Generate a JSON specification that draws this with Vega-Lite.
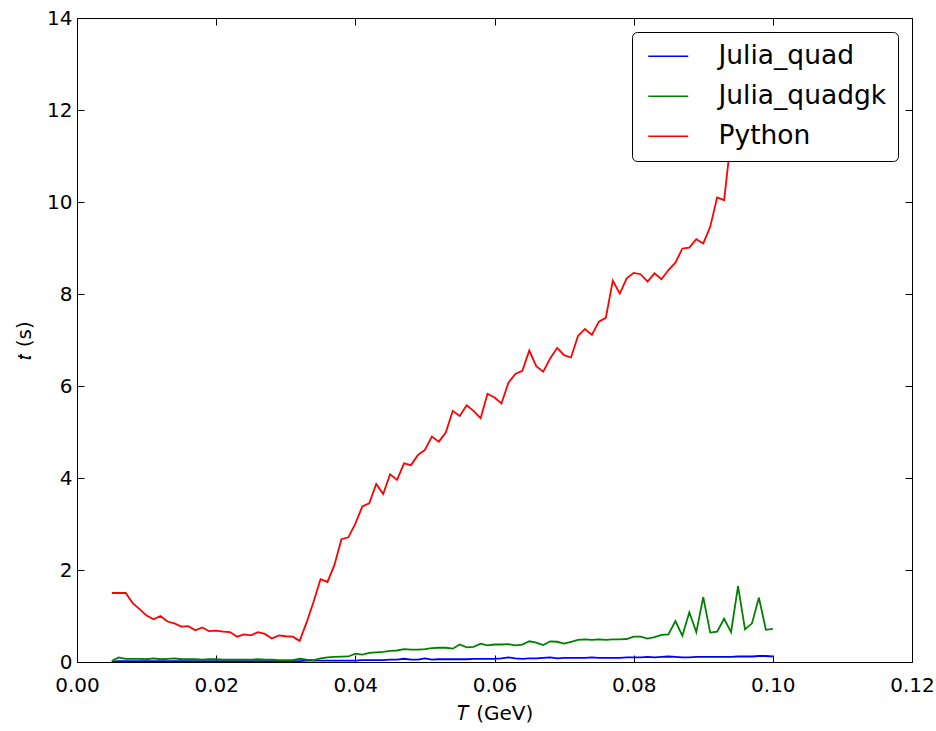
{
  "$schema": "https://vega.github.io/schema/vega-lite/v6.json",
  "width": 835,
  "height": 644,
  "autosize": "none",
  "padding": {"left": 77, "top": 18, "right": 24, "bottom": 69},
  "background": "white",
  "config": {
    "font": "DejaVu Sans",
    "view": {"stroke": "black", "strokeWidth": 1},
    "axis": {
      "grid": false,
      "domain": false,
      "tickColor": "black",
      "tickSize": -7,
      "tickWidth": 1,
      "labelPadding": 20,
      "labelFontSize": 20,
      "labelColor": "black",
      "labelFlush": false,
      "labelOverlap": false,
      "labelBound": false,
      "titleFontSize": 20,
      "titleFontWeight": "normal",
      "titleColor": "black"
    },
    "legend": {
      "orient": "top-right",
      "offset": 14,
      "title": null,
      "labelFontSize": 26.5,
      "labelLimit": 400,
      "labelColor": "black",
      "symbolType": "M-2,0H2",
      "symbolSize": 400,
      "symbolStrokeWidth": 1.6,
      "labelOffset": 37,
      "rowPadding": 13,
      "padding": 11,
      "symbolOffset": 12,
      "strokeColor": "black",
      "fillColor": "white",
      "cornerRadius": 5
    }
  },
  "data": {
    "values": [
      {"T": 0.005, "Julia_quad": 0.01, "Julia_quadgk": 0.02, "Python": 1.50},
      {"T": 0.006, "Julia_quad": 0.02, "Julia_quadgk": 0.10, "Python": 1.50},
      {"T": 0.007, "Julia_quad": 0.02, "Julia_quadgk": 0.07, "Python": 1.50},
      {"T": 0.008, "Julia_quad": 0.02, "Julia_quadgk": 0.07, "Python": 1.28},
      {"T": 0.009, "Julia_quad": 0.02, "Julia_quadgk": 0.07, "Python": 1.15},
      {"T": 0.010, "Julia_quad": 0.02, "Julia_quadgk": 0.06, "Python": 1.01},
      {"T": 0.011, "Julia_quad": 0.02, "Julia_quadgk": 0.08, "Python": 0.93},
      {"T": 0.012, "Julia_quad": 0.02, "Julia_quadgk": 0.06, "Python": 1.00},
      {"T": 0.013, "Julia_quad": 0.02, "Julia_quadgk": 0.07, "Python": 0.88},
      {"T": 0.014, "Julia_quad": 0.02, "Julia_quadgk": 0.08, "Python": 0.84},
      {"T": 0.015, "Julia_quad": 0.02, "Julia_quadgk": 0.06, "Python": 0.77},
      {"T": 0.016, "Julia_quad": 0.02, "Julia_quadgk": 0.06, "Python": 0.78},
      {"T": 0.017, "Julia_quad": 0.02, "Julia_quadgk": 0.06, "Python": 0.69},
      {"T": 0.018, "Julia_quad": 0.02, "Julia_quadgk": 0.05, "Python": 0.75},
      {"T": 0.019, "Julia_quad": 0.02, "Julia_quadgk": 0.06, "Python": 0.67},
      {"T": 0.020, "Julia_quad": 0.02, "Julia_quadgk": 0.06, "Python": 0.68},
      {"T": 0.021, "Julia_quad": 0.02, "Julia_quadgk": 0.05, "Python": 0.66},
      {"T": 0.022, "Julia_quad": 0.02, "Julia_quadgk": 0.05, "Python": 0.65},
      {"T": 0.023, "Julia_quad": 0.02, "Julia_quadgk": 0.05, "Python": 0.55},
      {"T": 0.024, "Julia_quad": 0.02, "Julia_quadgk": 0.05, "Python": 0.60},
      {"T": 0.025, "Julia_quad": 0.02, "Julia_quadgk": 0.05, "Python": 0.58},
      {"T": 0.026, "Julia_quad": 0.02, "Julia_quadgk": 0.06, "Python": 0.65},
      {"T": 0.027, "Julia_quad": 0.02, "Julia_quadgk": 0.05, "Python": 0.61},
      {"T": 0.028, "Julia_quad": 0.02, "Julia_quadgk": 0.05, "Python": 0.51},
      {"T": 0.029, "Julia_quad": 0.02, "Julia_quadgk": 0.04, "Python": 0.58},
      {"T": 0.030, "Julia_quad": 0.02, "Julia_quadgk": 0.04, "Python": 0.56},
      {"T": 0.031, "Julia_quad": 0.02, "Julia_quadgk": 0.04, "Python": 0.55},
      {"T": 0.032, "Julia_quad": 0.02, "Julia_quadgk": 0.07, "Python": 0.46},
      {"T": 0.033, "Julia_quad": 0.03, "Julia_quadgk": 0.05, "Python": 0.86},
      {"T": 0.034, "Julia_quad": 0.03, "Julia_quadgk": 0.04, "Python": 1.31},
      {"T": 0.035, "Julia_quad": 0.03, "Julia_quadgk": 0.08, "Python": 1.80},
      {"T": 0.036, "Julia_quad": 0.03, "Julia_quadgk": 0.10, "Python": 1.74},
      {"T": 0.037, "Julia_quad": 0.03, "Julia_quadgk": 0.11, "Python": 2.11},
      {"T": 0.038, "Julia_quad": 0.03, "Julia_quadgk": 0.115, "Python": 2.67},
      {"T": 0.039, "Julia_quad": 0.03, "Julia_quadgk": 0.12, "Python": 2.71},
      {"T": 0.040, "Julia_quad": 0.03, "Julia_quadgk": 0.18, "Python": 3.01},
      {"T": 0.041, "Julia_quad": 0.04, "Julia_quadgk": 0.16, "Python": 3.38},
      {"T": 0.042, "Julia_quad": 0.04, "Julia_quadgk": 0.20, "Python": 3.45},
      {"T": 0.043, "Julia_quad": 0.04, "Julia_quadgk": 0.21, "Python": 3.87},
      {"T": 0.044, "Julia_quad": 0.04, "Julia_quadgk": 0.22, "Python": 3.65},
      {"T": 0.045, "Julia_quad": 0.05, "Julia_quadgk": 0.24, "Python": 4.08},
      {"T": 0.046, "Julia_quad": 0.05, "Julia_quadgk": 0.25, "Python": 3.96},
      {"T": 0.047, "Julia_quad": 0.07, "Julia_quadgk": 0.28, "Python": 4.32},
      {"T": 0.048, "Julia_quad": 0.05, "Julia_quadgk": 0.27, "Python": 4.28},
      {"T": 0.049, "Julia_quad": 0.05, "Julia_quadgk": 0.27, "Python": 4.50},
      {"T": 0.050, "Julia_quad": 0.08, "Julia_quadgk": 0.28, "Python": 4.61},
      {"T": 0.051, "Julia_quad": 0.05, "Julia_quadgk": 0.30, "Python": 4.90},
      {"T": 0.052, "Julia_quad": 0.06, "Julia_quadgk": 0.31, "Python": 4.79},
      {"T": 0.053, "Julia_quad": 0.06, "Julia_quadgk": 0.31, "Python": 4.99},
      {"T": 0.054, "Julia_quad": 0.06, "Julia_quadgk": 0.29, "Python": 5.46},
      {"T": 0.055, "Julia_quad": 0.06, "Julia_quadgk": 0.38, "Python": 5.35},
      {"T": 0.056, "Julia_quad": 0.06, "Julia_quadgk": 0.32, "Python": 5.58},
      {"T": 0.057, "Julia_quad": 0.07, "Julia_quadgk": 0.33, "Python": 5.46},
      {"T": 0.058, "Julia_quad": 0.07, "Julia_quadgk": 0.40, "Python": 5.30},
      {"T": 0.059, "Julia_quad": 0.07, "Julia_quadgk": 0.36, "Python": 5.83},
      {"T": 0.060, "Julia_quad": 0.07, "Julia_quadgk": 0.38, "Python": 5.75},
      {"T": 0.061, "Julia_quad": 0.08, "Julia_quadgk": 0.38, "Python": 5.62},
      {"T": 0.062, "Julia_quad": 0.10, "Julia_quadgk": 0.39, "Python": 6.07},
      {"T": 0.063, "Julia_quad": 0.08, "Julia_quadgk": 0.36, "Python": 6.26},
      {"T": 0.064, "Julia_quad": 0.07, "Julia_quadgk": 0.38, "Python": 6.33},
      {"T": 0.065, "Julia_quad": 0.08, "Julia_quadgk": 0.45, "Python": 6.77},
      {"T": 0.066, "Julia_quad": 0.08, "Julia_quadgk": 0.42, "Python": 6.43},
      {"T": 0.067, "Julia_quad": 0.09, "Julia_quadgk": 0.37, "Python": 6.31},
      {"T": 0.068, "Julia_quad": 0.10, "Julia_quadgk": 0.45, "Python": 6.60},
      {"T": 0.069, "Julia_quad": 0.08, "Julia_quadgk": 0.44, "Python": 6.83},
      {"T": 0.070, "Julia_quad": 0.09, "Julia_quadgk": 0.40, "Python": 6.67},
      {"T": 0.071, "Julia_quad": 0.09, "Julia_quadgk": 0.44, "Python": 6.62},
      {"T": 0.072, "Julia_quad": 0.09, "Julia_quadgk": 0.48, "Python": 7.09},
      {"T": 0.073, "Julia_quad": 0.09, "Julia_quadgk": 0.49, "Python": 7.24},
      {"T": 0.074, "Julia_quad": 0.10, "Julia_quadgk": 0.48, "Python": 7.11},
      {"T": 0.075, "Julia_quad": 0.09, "Julia_quadgk": 0.49, "Python": 7.40},
      {"T": 0.076, "Julia_quad": 0.09, "Julia_quadgk": 0.48, "Python": 7.48},
      {"T": 0.077, "Julia_quad": 0.09, "Julia_quadgk": 0.49, "Python": 8.29},
      {"T": 0.078, "Julia_quad": 0.09, "Julia_quadgk": 0.49, "Python": 8.01},
      {"T": 0.079, "Julia_quad": 0.10, "Julia_quadgk": 0.50, "Python": 8.34},
      {"T": 0.080, "Julia_quad": 0.10, "Julia_quadgk": 0.55, "Python": 8.46},
      {"T": 0.081, "Julia_quad": 0.10, "Julia_quadgk": 0.55, "Python": 8.43},
      {"T": 0.082, "Julia_quad": 0.11, "Julia_quadgk": 0.51, "Python": 8.27},
      {"T": 0.083, "Julia_quad": 0.10, "Julia_quadgk": 0.54, "Python": 8.45},
      {"T": 0.084, "Julia_quad": 0.11, "Julia_quadgk": 0.59, "Python": 8.32},
      {"T": 0.085, "Julia_quad": 0.12, "Julia_quadgk": 0.60, "Python": 8.52},
      {"T": 0.086, "Julia_quad": 0.11, "Julia_quadgk": 0.89, "Python": 8.68},
      {"T": 0.087, "Julia_quad": 0.10, "Julia_quadgk": 0.57, "Python": 8.99},
      {"T": 0.088, "Julia_quad": 0.10, "Julia_quadgk": 1.08, "Python": 9.01},
      {"T": 0.089, "Julia_quad": 0.11, "Julia_quadgk": 0.65, "Python": 9.19},
      {"T": 0.090, "Julia_quad": 0.11, "Julia_quadgk": 1.41, "Python": 9.10},
      {"T": 0.091, "Julia_quad": 0.11, "Julia_quadgk": 0.64, "Python": 9.46},
      {"T": 0.092, "Julia_quad": 0.11, "Julia_quadgk": 0.66, "Python": 10.10},
      {"T": 0.093, "Julia_quad": 0.11, "Julia_quadgk": 0.94, "Python": 10.04},
      {"T": 0.094, "Julia_quad": 0.11, "Julia_quadgk": 0.65, "Python": 11.4},
      {"T": 0.095, "Julia_quad": 0.12, "Julia_quadgk": 1.65, "Python": 11.8},
      {"T": 0.096, "Julia_quad": 0.12, "Julia_quadgk": 0.71, "Python": 12.1},
      {"T": 0.097, "Julia_quad": 0.12, "Julia_quadgk": 0.84, "Python": 12.4},
      {"T": 0.098, "Julia_quad": 0.13, "Julia_quadgk": 1.40, "Python": 12.6},
      {"T": 0.099, "Julia_quad": 0.13, "Julia_quadgk": 0.70, "Python": 12.9},
      {"T": 0.100, "Julia_quad": 0.12, "Julia_quadgk": 0.72, "Python": 13.2}
    ]
  },
  "transform": [
    {"fold": ["Julia_quad", "Julia_quadgk", "Python"], "as": ["method", "t"]}
  ],
  "layer": [
    {
      "mark": {"type": "line", "strokeWidth": 1.8, "clip": true},
      "encoding": {
        "x": {
          "field": "T", "type": "quantitative",
          "scale": {"domain": [0, 0.12], "nice": false, "zero": false},
          "axis": {"orient": "bottom", "values": [0, 0.02, 0.04, 0.06, 0.08, 0.1, 0.12], "format": ".2f", "title": "𝑇 (GeV)", "titlePadding": 8}
        },
        "y": {
          "field": "t", "type": "quantitative",
          "scale": {"domain": [0, 14], "nice": false},
          "axis": {"orient": "left", "values": [0, 2, 4, 6, 8, 10, 12, 14], "format": "d", "title": "𝑡 (s)", "titlePadding": 12, "labelPadding": 12}
        },
        "color": {
          "field": "method", "type": "nominal",
          "scale": {"domain": ["Julia_quad", "Julia_quadgk", "Python"], "range": ["#0000ff", "#008000", "#ff0000"]},
          "legend": {"title": null}
        }
      }
    },
    {
      "mark": {"type": "line", "opacity": 0},
      "encoding": {
        "x": {
          "field": "T", "type": "quantitative",
          "axis": {"orient": "top", "values": [0, 0.02, 0.04, 0.06, 0.08, 0.1, 0.12], "labels": false, "title": null}
        },
        "y": {
          "field": "t", "type": "quantitative",
          "axis": {"orient": "right", "values": [0, 2, 4, 6, 8, 10, 12, 14], "labels": false, "title": null}
        },
        "detail": {"field": "method"}
      }
    }
  ]
}
